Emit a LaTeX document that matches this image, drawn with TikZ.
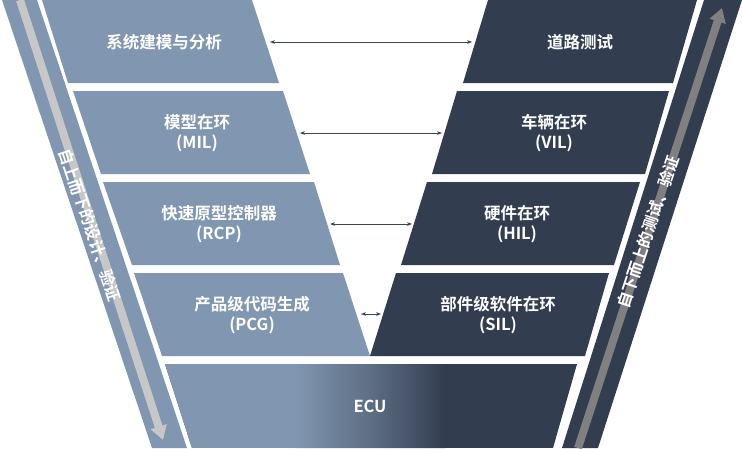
\documentclass[tikz,border=0pt]{standalone}
\usepackage{fontspec}
\usetikzlibrary{arrows.meta}
\newfontfamily\cjk{Noto Sans CJK SC}[BoldFont={Noto Sans CJK SC Bold}]
\begin{document}
\begin{tikzpicture}[x=1pt,y=-1pt,
  lbox/.style={fill=light},
  rbox/.style={fill=dark},
  lab/.style={text=white,font=\cjk\bfseries\fontsize{16.5}{20}\selectfont,align=center},
  band/.style={text=white,font=\cjk\bfseries\fontsize{16}{18}\selectfont},
  conn/.style={{Stealth[length=5pt]}-{Stealth[length=5pt]},draw=arrowc,line width=0.8pt}]
\definecolor{light}{HTML}{8196B0}
\definecolor{dark}{HTML}{333D50}
\definecolor{arrowc}{HTML}{3A4458}
\useasboundingbox (0,0) rectangle (742,448);
\fill[white] (0,0) rectangle (742,448);
% bands
\fill[light] (2,0) -- (37,0) -- (187,448) -- (152,448) -- cycle;
\fill[dark] (704,0) -- (742,0) -- (598,448) -- (562,448) -- cycle;
\draw[line width=8pt,color=black!22,-{Triangle[length=14pt,width=16pt]}] (20,0) -- (163,440);
\draw[line width=8pt,color=black!50,-{Triangle[length=14pt,width=16pt]}] (578,448) -- (722,8);
\node (tl) [band,rotate=-71.5] at (90,225) {自上而下的设计、验证};
\node (tr) [band,rotate=71.5] at (648,232) {自下而上的测试、验证};
% left boxes
\fill[lbox] (42,0) -- (252,0) -- (279,83) -- (68,83) -- cycle;
\fill[lbox] (73,91) -- (283,91) -- (310,174) -- (101,174) -- cycle;
\fill[lbox] (103,182) -- (314,182) -- (340,265) -- (132,265) -- cycle;
\fill[lbox] (134,273) -- (343,273) -- (370,356) -- (162,356) -- cycle;
% right boxes
\fill[rbox] (488,0) -- (697,0) -- (673,83) -- (463,83) -- cycle;
\fill[rbox] (457,91) -- (669,91) -- (645,174) -- (432,174) -- cycle;
\fill[rbox] (427,182) -- (640,182) -- (614,265) -- (401,265) -- cycle;
\fill[rbox] (396,273) -- (609,273) -- (585,356) -- (370,356) -- cycle;
% ECU
\begin{scope}
\clip (165,364) -- (577,364) -- (553,448) -- (192,448) -- cycle;
\fill[dark] (160,360) rectangle (580,448);
\fill[light] (160,360) rectangle (296,448);
\shade[left color=light,right color=dark,middle color=light!55!dark] (295,360) rectangle (445,448);
\end{scope}
\node (ecu) [lab] at (370,406) {ECU};
% labels
\node (l1) [lab] at (164,42) {系统建模与分析};
\node (l2) [lab] at (197,133) {模型在环\\(MIL)};
\node (l3) [lab] at (219,224) {快速原型控制器\\(RCP)};
\node (l4) [lab] at (252,315) {产品级代码生成\\(PCG)};
\node (r1) [lab] at (580,42) {道路测试};
\node (r2) [lab] at (554,133) {车辆在环\\(VIL)};
\node (r3) [lab] at (517,224) {硬件在环\\(HIL)};
\node (r4) [lab] at (498,315) {部件级软件在环\\(SIL)};
% connectors
\coordinate (a1) at (270,42); \coordinate (b1) at (472,42);
\coordinate (a2) at (300,133); \coordinate (b2) at (442,133);
\coordinate (a3) at (330,224); \coordinate (b3) at (412,224);
\coordinate (a4) at (361,314); \coordinate (b4) at (381,314);
\draw[conn] (a1) -- (b1);
\draw[conn] (a2) -- (b2);
\draw[conn] (a3) -- (b3);
\draw[conn] (a4) -- (b4);
\end{tikzpicture}
\end{document}
